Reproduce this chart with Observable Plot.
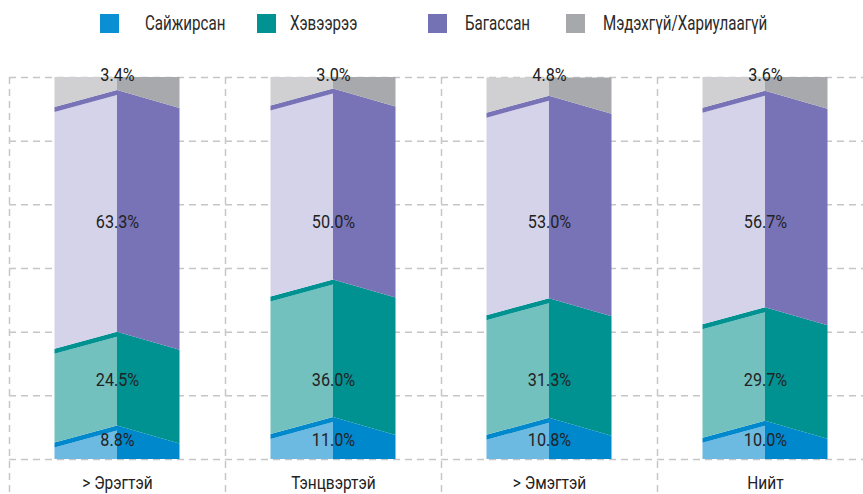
<!DOCTYPE html>
<html>
<head>
<meta charset="utf-8">
<script src="https://cdn.jsdelivr.net/npm/d3@7"></script>
<script src="https://cdn.jsdelivr.net/npm/@observablehq/plot@0.6"></script>
<style>
  html, body { margin: 0; padding: 0; background: #fff; }
  #wrap { position: relative; width: 863px; height: 494px; overflow: hidden;
    font-family: Roboto, sans-serif; color: #222; }
  .sw { position: absolute; top: 14px; width: 19px; height: 19px; }
  .lt { position: absolute; top: 12px; font-size: 19.5px; line-height: 24px; color: #2a2a2a; white-space: nowrap;
        transform: scaleX(0.775); transform-origin: 0 50%; }
  #chart { position: absolute; left: 0; top: 50px; }
</style>
</head>
<body>
<div id="wrap">
  <div id="legend"></div>
  <div id="chart"></div>
</div>
<script>
const categories = ["> Эрэгтэй", "Тэнцвэртэй", "> Эмэгтэй", "Нийт"];
const seriesNames = ["Сайжирсан", "Хэвээрээ", "Багассан", "Мэдэхгүй/Хариулаагүй"];
const improved  = [8.8, 11.0, 10.8, 10.0];
const unchanged = [24.5, 36.0, 31.3, 29.7];
const decreased = [63.3, 50.0, 53.0, 56.7];
const unknown   = [3.4, 3.0, 4.8, 3.6];
const seriesValues = [improved, unchanged, decreased, unknown];

const lightColors = ["#6cb9e2", "#72c1bf", "#d5d3ea", "#d0d0d2"];
const darkColors  = ["#0088cc", "#009191", "#7873b7", "#a8a9ac"];
const legendColors = ["#0a8fd4", "#009391", "#7571b5", "#a7a8ab"];

// legend
const legendX = [[100, 145], [257, 290], [428, 465], [566, 603]];
const legend = document.getElementById("legend");
seriesNames.forEach((name, k) => {
  const sw = document.createElement("div");
  sw.className = "sw"; sw.style.left = legendX[k][0] + "px"; sw.style.background = legendColors[k];
  const t = document.createElement("div");
  t.className = "lt"; t.style.left = legendX[k][1] + "px"; t.textContent = name;
  legend.appendChild(sw); legend.appendChild(t);
});

// 3D face geometry (style constants, in y data units / x band units)
const half = 0.2894, dL = 4.45, dR = 4.71, stripe = 1.31;
const leftLine = (v, rel) => v - dL * (-rel / half);
const rightLine = (v, rel) => v - dR * (rel / half);

const faces = [];
categories.forEach((c, i) => {
  let b = 0;
  seriesValues.forEach((vals, k) => {
    const t = b + vals[i];
    const last = k === seriesValues.length - 1;
    for (const rel of [-half, 0]) {
      faces.push({id: `L${i}-${k}`, x: i + rel, fill: lightColors[k],
        y1: k === 0 ? 0 : leftLine(b, rel),
        y2: last ? t : leftLine(t, rel) - stripe});
      if (!last) faces.push({id: `S${i}-${k}`, x: i + rel, fill: darkColors[k],
        y1: leftLine(t, rel) - stripe, y2: leftLine(t, rel)});
    }
    for (const rel of [0, half]) {
      faces.push({id: `R${i}-${k}`, x: i + rel, fill: darkColors[k],
        y1: k === 0 ? 0 : rightLine(b, rel),
        y2: last ? t : rightLine(t, rel)});
    }
    b = t;
  });
});

const labelY = [5.0, 20.7, 62.0, 100.65];
const labels = [];
categories.forEach((c, i) => seriesValues.forEach((vals, k) =>
  labels.push({x: i, y: labelY[k], text: vals[i].toFixed(1) + "%"})));

const gridY = d3.range(0, 7).map(k => k * 100 / 6);
const gridX = [-0.5, 0.5, 1.5, 2.5, 3.5];
const xMax = 3.5 - 10 / 216;

const chart = Plot.plot({
  width: 863, height: 444,
  marginTop: 27, marginBottom: 35, marginLeft: 9, marginRight: 0,
  x: {domain: [-0.5, xMax], axis: null},
  y: {domain: [0, 100], axis: null},
  style: {fontFamily: "Roboto, sans-serif", background: "transparent", overflow: "visible"},
  marks: [
    Plot.ruleY(gridY, {x1: -0.5, x2: xMax, stroke: "#c6c6c6", strokeWidth: 1.5, strokeDasharray: "7,5"}),
    Plot.ruleX(gridX, {y1: 100, y2: -9.5, stroke: "#c6c6c6", strokeWidth: 1.5, strokeDasharray: "7,5"}),
    Plot.areaY(faces, {x: "x", y1: "y1", y2: "y2", z: "id", fill: d => d.fill, curve: "linear"}),
    Plot.text(labels, {x: "x", y: "y", text: "text", fontSize: 18, fill: "#222", lineAnchor: "middle"}),
    Plot.text(categories, {x: (d, i) => i, y: 0, text: d => d, dy: 24, fontSize: 18, fill: "#222", lineAnchor: "middle"})
  ]
});
// condensed look: squeeze each text horizontally about its anchor
chart.querySelectorAll("text").forEach(el => {
  const s = categories.includes(el.textContent) ? 0.86 : 0.9;
  const tr = el.getAttribute("transform") || "";
  const x = +(el.getAttribute("x") || 0);
  el.setAttribute("transform", `${tr} translate(${x},0) scale(${s},1) translate(${-x},0)`);
});
document.getElementById("chart").appendChild(chart);
</script>
</body>
</html>
